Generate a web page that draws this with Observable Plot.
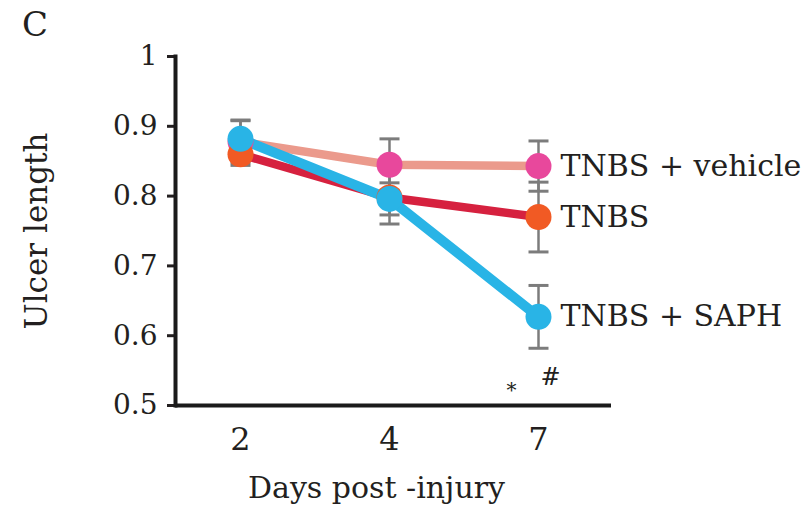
<!DOCTYPE html>
<html><head><meta charset="utf-8">
<script src="https://cdn.jsdelivr.net/npm/d3@7"></script>
<script src="https://cdn.jsdelivr.net/npm/@observablehq/plot@0.6"></script>
<style>
body{margin:0;background:#fff;}
#wrap{position:relative;width:802px;height:507px;}
#panel{position:absolute;left:22px;top:4px;font:34px "DejaVu Serif";color:#231f20;}
</style></head><body>
<div id="wrap"><div id="panel">C</div></div>
<script>
const days = ["2", "4", "7"];
const seriesNames = ["TNBS + vehicle", "TNBS", "TNBS + SAPH"];
const vehicleMean = [0.878, 0.845, 0.843];
const vehicleErr = [0.030, 0.037, 0.036];
const tnbsMean = [0.860, 0.798, 0.770];
const tnbsErr = [0.016, 0.038, 0.050];
const saphMean = [0.882, 0.796, 0.627];
const saphErr = [0.027, 0.023, 0.045];
const yTicks = [0.5, 0.6, 0.7, 0.8, 0.9, 1];
const starNote = [{day: "7", value: 0.522, text: "*"}];
const hashNote = [{day: "7", value: 0.540, text: "#"}];

const lineColors = ["#eb9a8c", "#d6213f", "#29b4e6"];
const dotColors = ["#e8489c", "#f15a24", "#29b4e6"];
const means = [vehicleMean, tnbsMean, saphMean];
const errs = [vehicleErr, tnbsErr, saphErr];

const rows = [];
seriesNames.forEach((s, k) => days.forEach((d, i) => rows.push({series: s, day: d, value: means[k][i], err: errs[k][i], k})));
const bySeries = k => rows.filter(r => r.k === k);
const last = rows.filter(r => r.day === days[days.length - 1]);

// horizontal cap symbol for error bars
const capSymbol = {draw(ctx, size) { const w = Math.sqrt(size / Math.PI); ctx.moveTo(-w, 0); ctx.lineTo(w, 0); }};

const gray = "#7c7c7c";
const marks = [
  Plot.ruleX(rows, {x: "day", y1: r => r.value - r.err, y2: r => r.value + r.err, stroke: gray, strokeWidth: 2.5}),
  Plot.dot(rows, {x: "day", y: r => r.value + r.err, symbol: capSymbol, r: 10, stroke: gray, strokeWidth: 3, fill: "none"}),
  Plot.dot(rows, {x: "day", y: r => r.value - r.err, symbol: capSymbol, r: 10, stroke: gray, strokeWidth: 3, fill: "none"}),
];
[0, 1, 2].forEach(k => marks.push(Plot.line(bySeries(k), {x: "day", y: "value", stroke: lineColors[k], strokeWidth: k === 2 ? 10 : 8.5, strokeLinecap: "butt"})));
[0, 1, 2].forEach(k => marks.push(Plot.dot(bySeries(k), {x: "day", y: "value", r: 13, fill: dotColors[k], stroke: "none"})));

const chart = Plot.plot({
  width: 802, height: 507,
  marginLeft: 175, marginRight: 191, marginTop: 56, marginBottom: 102,
  style: {fontFamily: "DejaVu Serif", color: "#231f20", background: "transparent"},
  x: {type: "point", domain: days, range: [240, 538], padding: 0},
  y: {domain: [0.5, 1]},
  marks: [
    Plot.axisY({ticks: yTicks, tickFormat: d3.format("~g"), tickSize: 8, tickPadding: 10, strokeWidth: 3, fontSize: 28, label: null}),
    Plot.axisY({ticks: [], tickSize: 0, fontSize: 31, label: "Ulcer length", labelAnchor: "center", labelArrow: "none", labelOffset: 151}),
    Plot.axisX({tickSize: 0, tickPadding: 22, fontSize: 32, label: null}),
    Plot.text(["Days post -injury"], {frameAnchor: "bottom", dy: 92, dx: -17, lineAnchor: "bottom", fontSize: 30, fill: "#231f20"}),
    Plot.ruleY([0.5], {stroke: "#1a1a1a", strokeWidth: 4}),
    Plot.frame({anchor: "left", stroke: "#1a1a1a", strokeWidth: 4}),
    ...marks,
    Plot.text(last, {x: "day", y: "value", text: "series", dx: 22, textAnchor: "start", lineAnchor: "middle", fontSize: 30, fill: "#231f20"}),
    Plot.text(starNote, {x: "day", y: "value", text: "text", dx: -27, fontSize: 20, fill: "#231f20"}),
    Plot.text(hashNote, {x: "day", y: "value", text: "text", dx: 12, fontSize: 24, fill: "#231f20"})
  ]
});
document.getElementById("wrap").prepend(chart);
</script>
</body></html>
